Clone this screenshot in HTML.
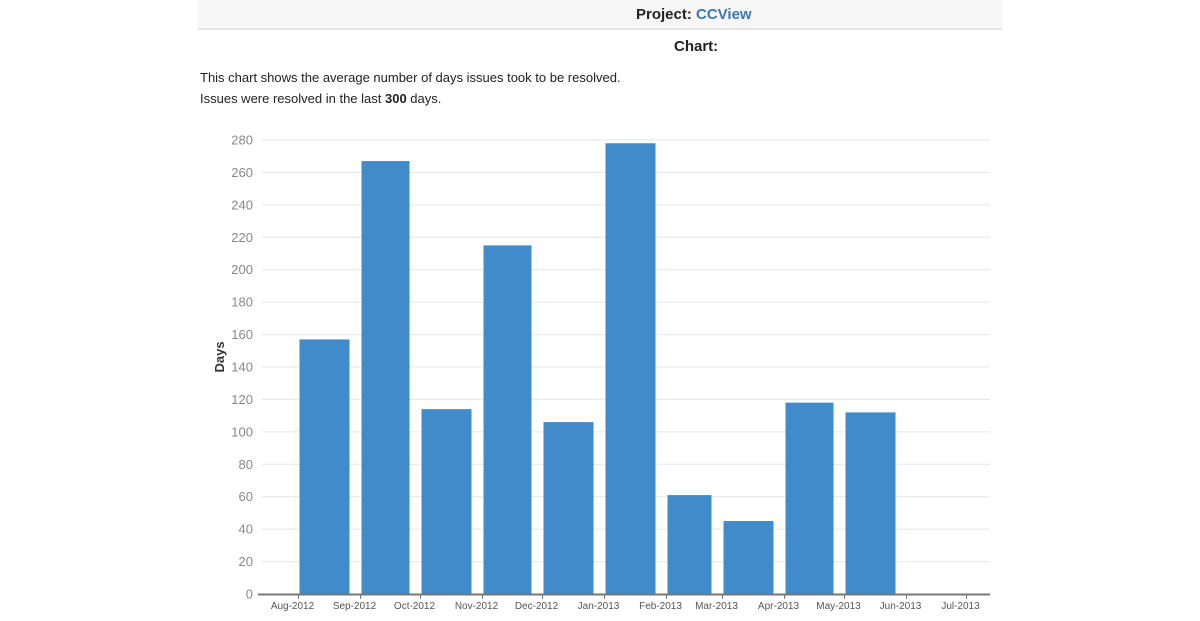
<!DOCTYPE html>
<html><head><meta charset="utf-8"><style>
body{margin:0;width:1200px;height:621px;background:#fff;font-family:"Liberation Sans",Arial,sans-serif;overflow:hidden;position:relative}
.hdr{position:absolute;left:198px;top:0;width:804px;height:28px;background:#f6f6f6;border-bottom:2px solid #e4e4e4}
.t{position:absolute;white-space:nowrap}
</style></head><body>
<div class="hdr"></div>
<div class="t" style="left:636px;top:6px;font-size:15px;font-weight:bold;color:#222">Project: <span style="color:#3a76b0">CCView</span></div>
<div class="t" style="left:674px;top:38px;font-size:15px;font-weight:bold;color:#222">Chart:</div>
<div class="t" style="left:200px;top:67px;font-size:13px;color:#222;line-height:21px">This chart shows the average number of days issues took to be resolved.<br>Issues were resolved in the last <b>300</b> days.</div>
<svg id="c" width="1200" height="621" style="position:absolute;left:0;top:0"></svg>
<script>
const months=["Aug-2012","Sep-2012","Oct-2012","Nov-2012","Dec-2012","Jan-2013","Feb-2013","Mar-2013","Apr-2013","May-2013","Jun-2013","Jul-2013"];
const monthDays=[31,30,31,30,31,31,28,31,30,31,30,31];
const values=[157,267,114,215,106,278,61,45,118,112,null,null];
const yTicks=[0,20,40,60,80,100,120,140,160,180,200,220,240,260,280];
const svg=document.getElementById('c');const NS='http://www.w3.org/2000/svg';
const y0=594,yTop=140,yMax=280;
const y=v=>y0-(v/yMax)*(y0-yTop);
const pxPerDay=2.0;const x0=298.5;
const monthStart=[];let acc=0;for(const d of monthDays){monthStart.push(acc);acc+=d;}
const x=d=>x0+d*pxPerDay;
function mk(t,a,txt){const e=document.createElementNS(NS,t);for(const k in a)e.setAttribute(k,a[k]);if(txt!=null)e.textContent=txt;svg.appendChild(e);return e;}
yTicks.forEach(v=>{
 if(v>0){const g=mk('line',{x1:262,x2:990,y1:y(v),y2:y(v),stroke:'#e6e6e6','stroke-width':1});
 
 }
 const t=mk('text',{x:253,y:y(v)+4.5,'text-anchor':'end','font-size':13,fill:'#888','font-family':'Liberation Sans, sans-serif'},v);
 
 
});
values.forEach((v,i)=>{
 if(v==null)return;
 const xs=x(monthStart[i])+1,w=monthDays[i]*pxPerDay-12;
 const r=mk('rect',{x:xs,y:y(v),width:w,height:y0-y(v),fill:'#428bca'});
 
 
});
const ax=mk('line',{x1:258,x2:990,y1:y0+0.5,y2:y0+0.5,stroke:'#777','stroke-width':2});


months.forEach((m,i)=>{
 const tx=x(monthStart[i]);
 const tk=mk('line',{x1:tx,x2:tx,y1:y0,y2:y0+5,stroke:'#777'});
 
 
 const t=mk('text',{x:tx-6,y:y0+15,'text-anchor':'middle','font-size':10,fill:'#555','font-family':'Liberation Sans, sans-serif'},m);
 
 
});
const yt=mk('text',{x:0,y:0,transform:'translate(224,357) rotate(-90)','text-anchor':'middle','font-size':13,'font-weight':'bold',fill:'#333','font-family':'Liberation Sans, sans-serif'},'Days');


</script>
</body></html>
